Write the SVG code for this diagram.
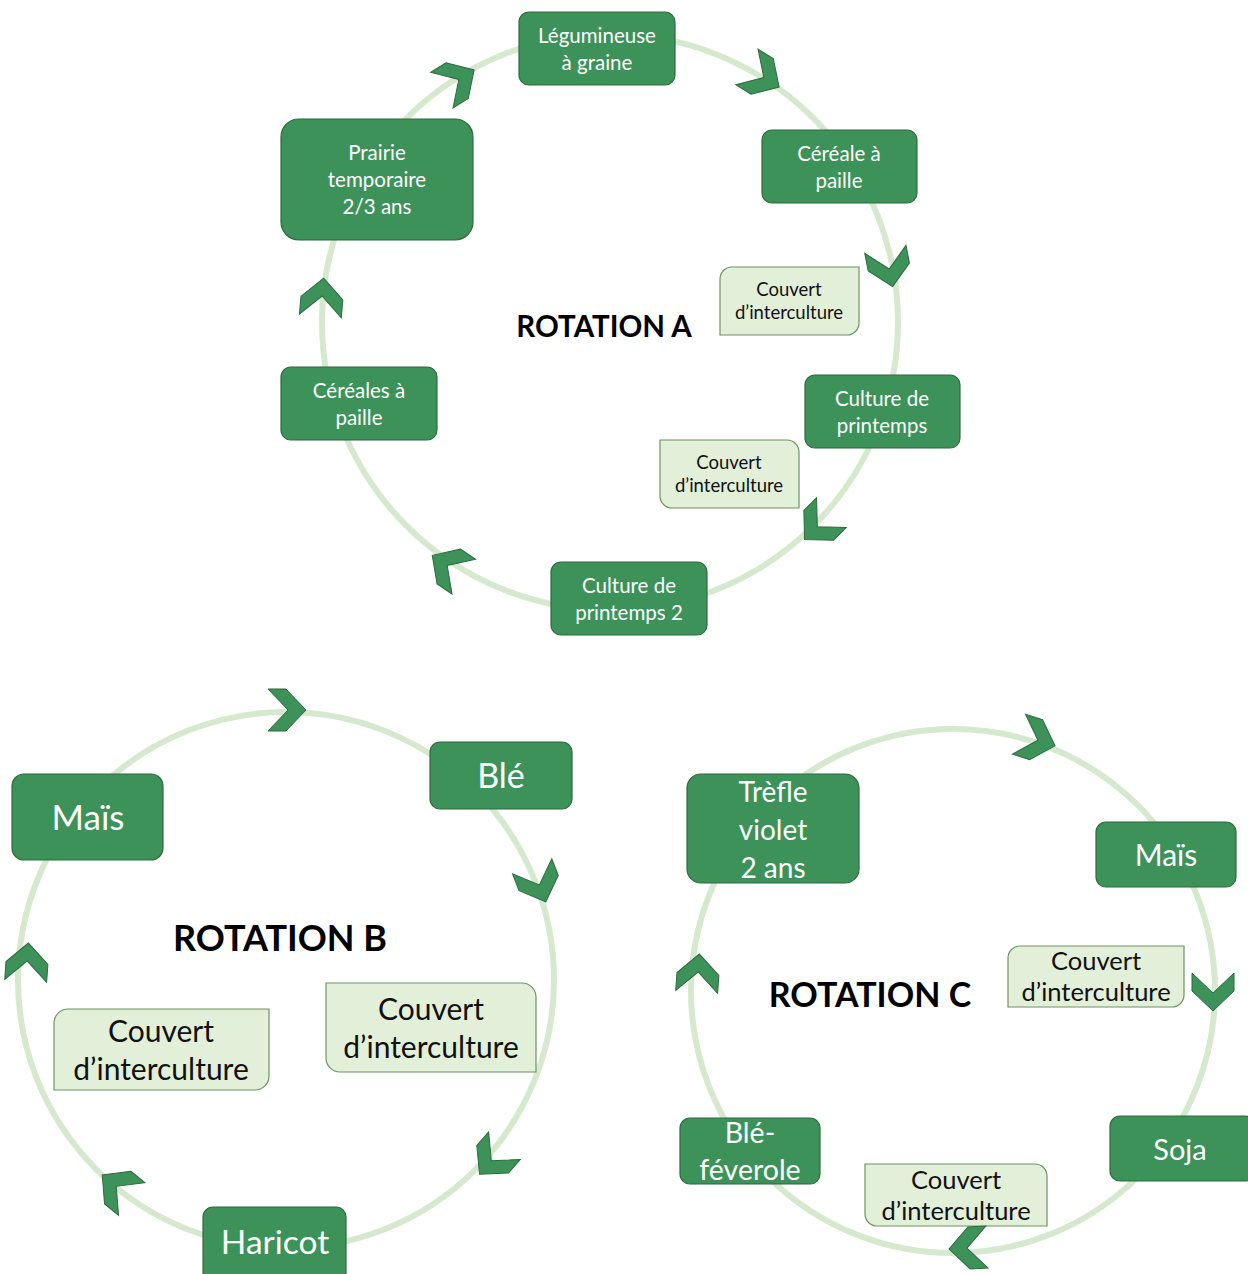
<svg xmlns="http://www.w3.org/2000/svg" width="1248" height="1274" viewBox="0 0 1248 1274">
<style>
.ring{fill:none;stroke:#d6e9cf;stroke-width:6}
.chev{fill:#3c9259;stroke:#2d6b3f;stroke-width:1}
.crop{fill:#3c9259;stroke:#2d6b3f;stroke-width:1.2}
.cov{fill:#e2efd9;stroke:#6f9460;stroke-width:1.2}
.wt{fill:#ffffff;font-family:Lato,"Liberation Sans",sans-serif;text-anchor:middle}
.bt{fill:#111111;font-family:Lato,"Liberation Sans",sans-serif;text-anchor:middle}
.title{fill:#000000;font-family:Lato,"Liberation Sans",sans-serif;font-weight:bold;text-anchor:middle}
</style>
<defs>
<path id="chev" d="M-19,-21 L-1,-21 L19,0 L-1,21 L-19,21 L1,0 Z"/>
</defs>
<rect width="1248" height="1274" fill="#ffffff"/>

<g id="connectors">
<circle class="ring" cx="610" cy="322" r="288"/>
<circle class="ring" cx="286" cy="980" r="268"/>
<circle class="ring" cx="953" cy="991" r="262"/>
</g>

<!-- Rotation A -->
<g id="titleA"><text class="title" x="604" y="337" font-size="29.5">ROTATION A</text></g>
<g id="a-legumineuse">
<rect class="crop" x="519" y="12" width="156" height="73" rx="10"/>
<text class="wt" font-size="20.5"><tspan x="597" y="43">Légumineuse</tspan><tspan x="597" y="70">à graine</tspan></text>
</g>
<g id="a-cereale">
<rect class="crop" x="762" y="130" width="155" height="73" rx="10"/>
<text class="wt" font-size="20.5"><tspan x="839" y="161">Céréale à</tspan><tspan x="839" y="188">paille</tspan></text>
</g>
<g id="a-prairie">
<rect class="crop" x="281" y="119" width="192" height="121" rx="18"/>
<text class="wt" font-size="20.5"><tspan x="377" y="160">Prairie</tspan><tspan x="377" y="187">temporaire</tspan><tspan x="377" y="214">2/3 ans</tspan></text>
</g>
<g id="a-cereales">
<rect class="crop" x="281" y="367" width="156" height="73" rx="10"/>
<text class="wt" font-size="20.5"><tspan x="359" y="398">Céréales à</tspan><tspan x="359" y="425">paille</tspan></text>
</g>
<g id="a-printemps">
<rect class="crop" x="805" y="375" width="155" height="73" rx="10"/>
<text class="wt" font-size="20.5"><tspan x="882" y="406">Culture de</tspan><tspan x="882" y="433">printemps</tspan></text>
</g>
<g id="a-printemps2">
<rect class="crop" x="551" y="562" width="156" height="73" rx="10"/>
<text class="wt" font-size="20.5"><tspan x="629" y="593">Culture de</tspan><tspan x="629" y="620">printemps 2</tspan></text>
</g>
<g id="a-couvert1">
<path class="cov" d="M732,267 H859 V323 A12,12 0 0 1 847,335 H720 V279 A12,12 0 0 1 732,267 Z"/>
<text class="bt" font-size="18.5"><tspan x="789" y="296">Couvert</tspan><tspan x="789" y="319">d’interculture</tspan></text>
</g>
<g id="a-couvert2">
<path class="cov" d="M660,440 H787 A12,12 0 0 1 799,452 V508 H672 A12,12 0 0 1 660,496 Z"/>
<text class="bt" font-size="18.5"><tspan x="729" y="469">Couvert</tspan><tspan x="729" y="492">d’interculture</tspan></text>
</g>

<!-- Rotation B -->
<g id="titleB"><text class="title" x="280" y="951" font-size="36">ROTATION B</text></g>
<g id="b-mais">
<rect class="crop" x="12" y="774" width="151" height="86" rx="12"/>
<text class="wt" font-size="35" x="88" y="830">Maïs</text>
</g>
<g id="b-ble">
<rect class="crop" x="430" y="742" width="142" height="67" rx="10"/>
<text class="wt" font-size="34" x="501" y="788">Blé</text>
</g>
<g id="b-haricot">
<rect class="crop" x="203" y="1207" width="143" height="80" rx="10"/>
<text class="wt" font-size="33.5" x="275" y="1254">Haricot</text>
</g>
<g id="b-couvert1">
<path class="cov" d="M68,1009 H269 V1076 A14,14 0 0 1 255,1090 H54 V1023 A14,14 0 0 1 68,1009 Z"/>
<text class="bt" font-size="30"><tspan x="161" y="1042">Couvert</tspan><tspan x="161" y="1080">d’interculture</tspan></text>
</g>
<g id="b-couvert2">
<path class="cov" d="M326,983 H522 A14,14 0 0 1 536,997 V1072 H340 A14,14 0 0 1 326,1058 Z"/>
<text class="bt" font-size="30"><tspan x="431" y="1020">Couvert</tspan><tspan x="431" y="1058">d’interculture</tspan></text>
</g>

<!-- Rotation C -->
<g id="titleC"><text class="title" x="870" y="1007" font-size="34">ROTATION C</text></g>
<g id="c-trefle">
<rect class="crop" x="687" y="774" width="172" height="109" rx="14"/>
<text class="wt" font-size="28"><tspan x="773" y="802">Trèfle</tspan><tspan x="773" y="840">violet</tspan><tspan x="773" y="878">2 ans</tspan></text>
</g>
<g id="c-mais">
<rect class="crop" x="1096" y="822" width="140" height="65" rx="10"/>
<text class="wt" font-size="30" x="1166" y="866">Maïs</text>
</g>
<g id="c-soja">
<rect class="crop" x="1110" y="1116" width="145" height="65" rx="10"/>
<text class="wt" font-size="29" x="1180" y="1160">Soja</text>
</g>
<g id="c-blefeverole">
<rect class="crop" x="680" y="1118" width="140" height="66" rx="10"/>
<text class="wt" font-size="28.5"><tspan x="750" y="1143">Blé-</tspan><tspan x="750" y="1180">féverole</tspan></text>
</g>
<g id="c-couvert1">
<path class="cov" d="M1020,946 H1184 V995 A12,12 0 0 1 1172,1007 H1008 V958 A12,12 0 0 1 1020,946 Z"/>
<text class="bt" font-size="25.5"><tspan x="1096" y="970">Couvert</tspan><tspan x="1096" y="1001">d’interculture</tspan></text>
</g>
<g id="c-couvert2">
<path class="cov" d="M865,1164 H1035 A12,12 0 0 1 1047,1176 V1226 H877 A12,12 0 0 1 865,1214 Z"/>
<text class="bt" font-size="25.5"><tspan x="956" y="1189">Couvert</tspan><tspan x="956" y="1220">d’interculture</tspan></text>
</g>

<g id="chevrons">
<use href="#chev" class="chev" transform="translate(458,80) rotate(-32)"/>
<use href="#chev" class="chev" transform="translate(763,77) rotate(32)"/>
<use href="#chev" class="chev" transform="translate(889,268) rotate(79)"/>
<use href="#chev" class="chev" transform="translate(818,526) rotate(135)"/>
<use href="#chev" class="chev" transform="translate(448,566) rotate(214)"/>
<use href="#chev" class="chev" transform="translate(322,297) rotate(-85)"/>
<use href="#chev" class="chev" transform="translate(287,710) rotate(0)"/>
<use href="#chev" class="chev" transform="translate(539,884) rotate(69)"/>
<use href="#chev" class="chev" transform="translate(492,1160) rotate(131)"/>
<use href="#chev" class="chev" transform="translate(117,1187) rotate(219)"/>
<use href="#chev" class="chev" transform="translate(27,962) rotate(-86)"/>
<use href="#chev" class="chev" transform="translate(1037,740) rotate(18)"/>
<use href="#chev" class="chev" transform="translate(1213,992) rotate(90)"/>
<use href="#chev" class="chev" transform="translate(968,1248) rotate(177)"/>
<use href="#chev" class="chev" transform="translate(698,973) rotate(-86)"/>
</g>
</svg>
